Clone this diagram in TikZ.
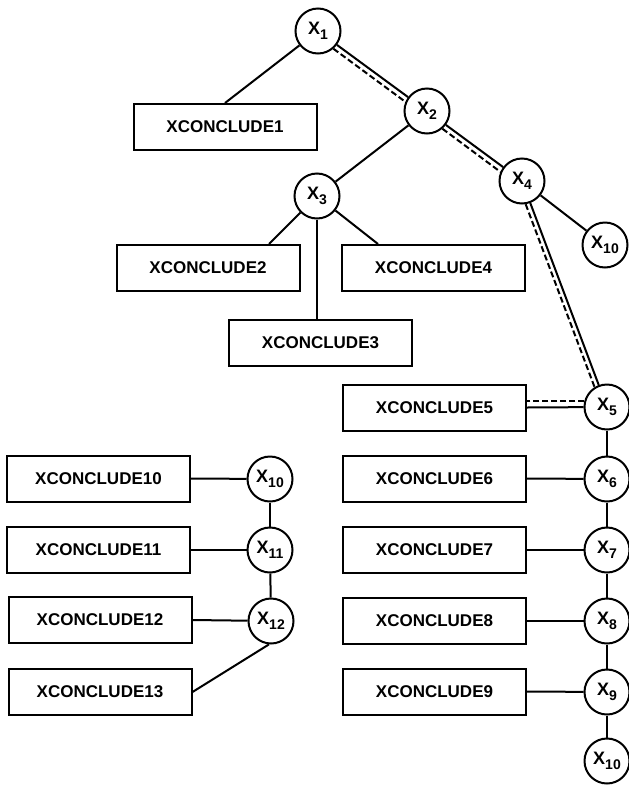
\documentclass[tikz,border=0pt]{standalone}
\usepackage{fontspec}
\setmainfont{Liberation Sans}
\usepackage{tikz}
\usetikzlibrary{calc}
\tikzset{
  cbox/.style={draw,line width=2pt,minimum width=183pt,minimum height=46pt,inner sep=0pt,font=\fontsize{17}{20}\selectfont\bfseries},
  vnode/.style={draw,circle,line width=2pt,minimum size=45pt,inner sep=0pt,font=\fontsize{18}{20}\selectfont\bfseries},
  ln/.style={line width=2pt},
  dsh/.style={line width=2pt,dash pattern=on 6pt off 3pt}
}
\newcommand{\xv}[1]{X\raisebox{-0.3em}{\fontsize{14}{14}\selectfont #1}}

\begin{document}
\begin{tikzpicture}[x=1pt,y=-1pt]
\useasboundingbox (0,0) rectangle (629,785);
% upper tree
\node[vnode] (x1) at (318,31) {\xv{1}};
\node[vnode] (x2) at (427,111) {\xv{2}};
\node[vnode] (x3) at (317,196) {\xv{3}};
\node[vnode] (x4) at (522,181) {\xv{4}};
\node[vnode] (x10a) at (605,245) {\xv{10}};
\node[cbox] (c1) at (225,127) {XCONCLUDE1};
\node[cbox] (c2) at (208,268) {XCONCLUDE2};
\node[cbox] (c4) at (433.5,268) {XCONCLUDE4};
\node[cbox] (c3) at (320.5,342.5) {XCONCLUDE3};
% right column
\node[vnode] (x5) at (607,407) {\xv{5}};
\node[vnode] (x6) at (607,479) {\xv{6}};
\node[vnode] (x7) at (607,550) {\xv{7}};
\node[vnode] (x8) at (607,621) {\xv{8}};
\node[vnode] (x9) at (607,692) {\xv{9}};
\node[vnode] (x10b) at (607,761) {\xv{10}};
\node[cbox] (c5) at (434.5,407.5) {XCONCLUDE5};
\node[cbox] (c6) at (434.5,478.5) {XCONCLUDE6};
\node[cbox] (c7) at (434.5,550) {XCONCLUDE7};
\node[cbox] (c8) at (434.5,621) {XCONCLUDE8};
\node[cbox] (c9) at (434.5,691.5) {XCONCLUDE9};
% left column
\node[vnode] (x10c) at (270,479) {\xv{10}};
\node[vnode] (x11) at (270,550) {\xv{11}};
\node[vnode] (x12) at (271,621) {\xv{12}};
\node[cbox] (c10) at (98.5,478.5) {XCONCLUDE10};
\node[cbox] (c11) at (98.5,550) {XCONCLUDE11};
\node[cbox] (c12) at (100,620) {XCONCLUDE12};
\node[cbox] (c13) at (100,692) {XCONCLUDE13};
% connectors
\draw[ln] (x1) -- (c1.north);
\draw[ln] (x1) -- (x2);
\draw[dsh] (x1.-49) -- (x2.157);
\draw[ln] (x2) -- (x3);
\draw[ln] (x2) -- (x4);
\draw[dsh] (x2.-49) -- (x4.157);
\draw[ln] (x4) -- (x10a);
\draw[ln] (x4) -- (x5);
\draw[dsh] (x4.-81) -- (x5.122);
\draw[ln] (x3) -- ($(c2.north west)!0.83!(c2.north east)$);
\draw[ln] (x3.south) -- (x3.south |- c3.north);
\draw[ln] (x3) -- ($(c4.north west)!0.2!(c4.north east)$);
\draw[ln] (c5.east) -- (x5);
\draw[dsh] (x5.165) -- (x5.165 -| c5.east);
\foreach \a/\b in {x5/x6,x6/x7,x7/x8,x8/x9,x9/x10b,x10c/x11,x11/x12}
  \draw[ln] (\a) -- (\b);
\foreach \c/\x in {c6/x6,c7/x7,c8/x8,c9/x9,c10/x10c,c11/x11,c12/x12}
  \draw[ln] (\c.east) -- (\x);
\draw[ln] (x12.-95) -- (c13.east);
\end{tikzpicture}
\end{document}
